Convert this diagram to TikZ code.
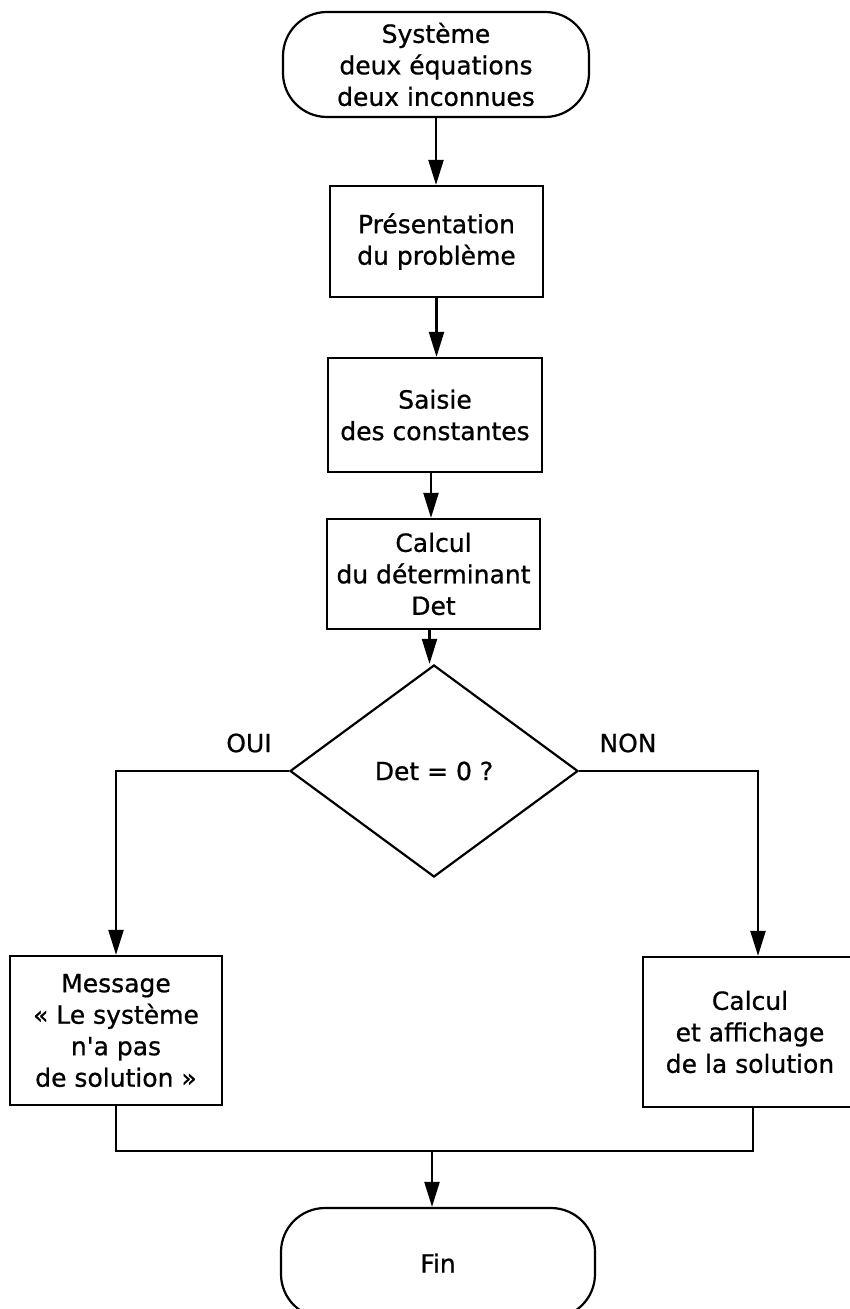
\documentclass[tikz,border=0pt]{standalone}
\usepackage{fontspec}
\setmainfont{DejaVu Sans}[FakeBold=0.8, Ligatures=TeXOff]
\usetikzlibrary{arrows.meta,shapes.geometric}
\begin{document}
\begin{tikzpicture}[x=1pt,y=-1pt,
  every node/.style={font=\fontsize{25}{31.5}\selectfont, align=center, inner sep=0pt},
  boxstyle/.style={draw, line width=2.2pt, rectangle},
  termstyle/.style={draw, line width=2.2pt, rectangle, rounded corners=44pt},
  decstyle/.style={draw, line width=2.2pt, diamond, minimum width=288pt, minimum height=212pt},
  conn/.style={line width=2.2pt},
  arr/.style={line width=2.2pt, -{Triangle[length=25pt,width=15pt]}},
  lbl/.style={}
]
\useasboundingbox (0,0) rectangle (849,1309);
\node[termstyle, minimum width=306pt, minimum height=105pt] (t1) at (436,64.5) {Système\\deux équations\\deux inconnues};
\node[boxstyle, minimum width=213pt, minimum height=111pt] (b2) at (436.5,241.5) {Présentation\\du problème};
\node[boxstyle, minimum width=214pt, minimum height=114pt] (b3) at (435,415) {Saisie\\des constantes};
\node[boxstyle, minimum width=213pt, minimum height=110pt] (b4) at (433.5,574) {Calcul\\du déterminant\\Det};
\node[decstyle] (dia) at (434,771) {Det = 0 ?};
\node[lbl] (oui) at (249,743) {OUI};
\node[lbl] (non) at (628,743) {NON};
\node[boxstyle, minimum width=212pt, minimum height=149pt] (lb) at (116,1030.5) {Message\\« Le système\\n'a pas\\de solution »};
\node[boxstyle, minimum width=214pt, minimum height=150pt] (rb) at (750,1032) {Calcul\\et affichage\\de la solution};
\node[termstyle, minimum width=314pt, minimum height=110pt] (fin) at (438,1263) {Fin};

\draw[arr] (t1.south) -- (t1.south |- b2.north);
\draw[arr] (b2.south) -- (b2.south |- b3.north);
\draw[arr] ([xshift=-4pt]b3.south) -- ([xshift=-4pt]b3.south |- b4.north);
\draw[arr] ([xshift=-4pt]b4.south) -- ([xshift=-4pt]b4.south |- dia.north);
\draw[arr] (dia.west) -| (lb.north);
\draw[arr] (dia.east) -| ([xshift=8pt]rb.north);
\coordinate (jr) at (753,1151);
\coordinate (jm) at (432,1151);
\draw[conn] (lb.south) |- (jr) -- (jr |- rb.south);
\draw[arr] (jm) -- (jm |- fin.north);
\end{tikzpicture}
\end{document}
